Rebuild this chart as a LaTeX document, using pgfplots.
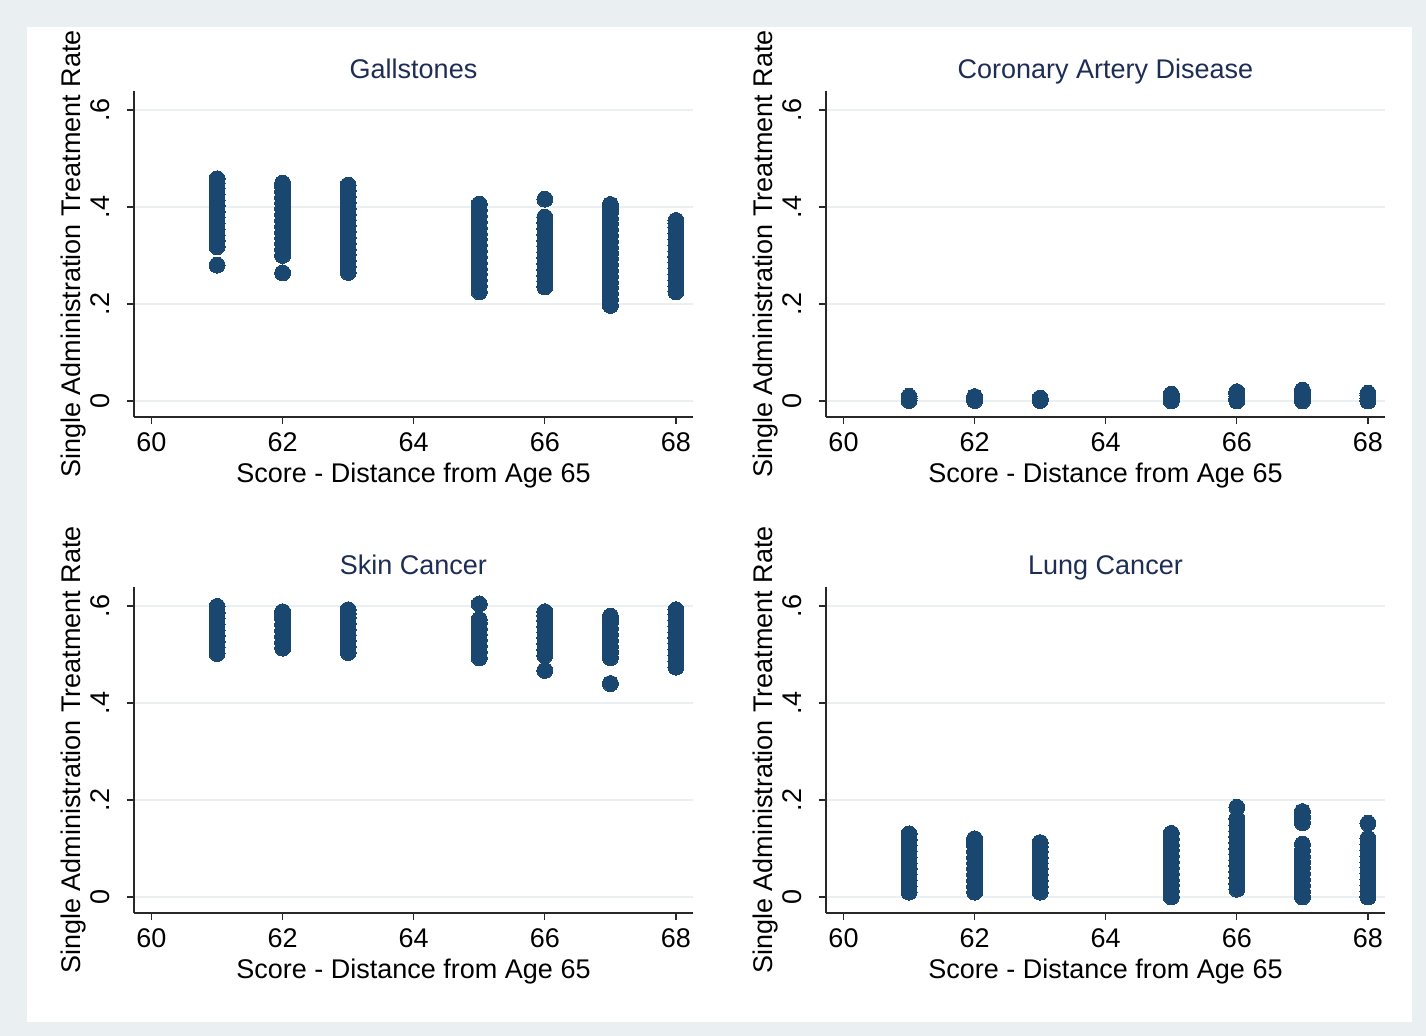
\documentclass[border=0pt]{standalone}
\usepackage{fontspec}
\setmainfont{Liberation Sans}
\usepackage{pgfplots}
\pgfplotsset{compat=1.18}
\definecolor{stnavy}{RGB}{26,71,111}
\definecolor{bgcol}{RGB}{234,240,242}
\definecolor{gridcol}{RGB}{234,240,242}
\definecolor{titlecol}{RGB}{30,45,85}
\definecolor{axcol}{RGB}{40,40,40}
\newcommand{\fs}{\fontsize{13.5}{16}\selectfont}
\pgfplotsset{stata/.style={
  scale only axis, width=279.5pt, height=163pt, anchor=south west,
  xmin=59.733, xmax=68.26, ymin=-0.033, ymax=0.639,
  axis x line=bottom, axis y line=left,
  axis line style={-, draw=axcol, line width=0.6pt},
  xtick={60,62,64,66,68}, ytick={0,0.2,0.4,0.6}, yticklabels={0,.2,.4,.6},
  tick align=outside, major tick length=3.5pt,
  tick style={draw=axcol, line width=0.6pt},
  ymajorgrids, grid style={draw=gridcol, line width=1pt},
  /pgf/number format/assume math mode=true,
  tick label style={font=\fs, text=black},
  xticklabel style={anchor=base, inner sep=0pt, yshift=-14pt},
  yticklabel style={xshift=-8.5pt, rotate=90, anchor=south, inner sep=0pt},
  xlabel={Score - Distance from Age 65},
  ylabel={Single Administration Treatment Rate},
  label style={font=\fs, text=black},
  xlabel style={at={(axis description cs:0.5,0)}, anchor=base, inner sep=0pt, yshift=-33pt},
  ylabel style={at={(axis description cs:-0.109,0.5)}, anchor=center, inner sep=0pt},
  title style={at={(axis description cs:0.5,1)}, anchor=base, inner sep=0pt, yshift=0pt, font=\fs, text=titlecol},
}, dots/.style={only marks, mark=*, mark size=4pt, color=stnavy,
     mark options={draw=stnavy, fill=stnavy, line width=0pt}}}
\begin{document}
\begin{tikzpicture}
\fill[bgcol] (0pt,0pt) rectangle (713pt,518pt);
\fill[white] (13.5pt,7pt) rectangle (706pt,504.5pt);

% Gallstones
\begin{axis}[stata, at={(67pt,309.5pt)}, title={Gallstones}]
\addplot[dots] coordinates {
(61,0.280)(61,0.318)(61,0.330)(61,0.342)(61,0.354)(61,0.366)(61,0.378)(61,0.390)(61,0.402)(61,0.414)(61,0.426)(61,0.438)(61,0.449)(61,0.458)
(62,0.264)(62,0.300)(62,0.312)(62,0.324)(62,0.336)(62,0.348)(62,0.360)(62,0.372)(62,0.384)(62,0.396)(62,0.408)(62,0.420)(62,0.432)(62,0.442)(62,0.449)
(63,0.265)(63,0.277)(63,0.289)(63,0.301)(63,0.313)(63,0.325)(63,0.337)(63,0.349)(63,0.361)(63,0.373)(63,0.385)(63,0.397)(63,0.409)(63,0.421)(63,0.433)(63,0.445)
(65,0.225)(65,0.237)(65,0.249)(65,0.261)(65,0.273)(65,0.285)(65,0.297)(65,0.309)(65,0.321)(65,0.333)(65,0.345)(65,0.357)(65,0.369)(65,0.381)(65,0.393)(65,0.406)
(66,0.235)(66,0.247)(66,0.259)(66,0.271)(66,0.283)(66,0.295)(66,0.307)(66,0.319)(66,0.331)(66,0.343)(66,0.355)(66,0.367)(66,0.379)(66,0.416)
(67,0.197)(67,0.209)(67,0.221)(67,0.233)(67,0.245)(67,0.257)(67,0.269)(67,0.281)(67,0.293)(67,0.305)(67,0.317)(67,0.329)(67,0.341)(67,0.353)(67,0.365)(67,0.377)(67,0.389)(67,0.397)(67,0.405)
(68,0.225)(68,0.237)(68,0.249)(68,0.261)(68,0.273)(68,0.285)(68,0.297)(68,0.309)(68,0.321)(68,0.333)(68,0.345)(68,0.357)(68,0.366)(68,0.372)
};
\end{axis}

% Coronary Artery Disease
\begin{axis}[stata, at={(413pt,309.5pt)}, title={Coronary Artery Disease}]
\addplot[dots] coordinates {
(61,0.001)(61,0.005)(61,0.0095)
(62,0.001)(62,0.005)(62,0.009)
(63,0.001)(63,0.004)(63,0.006)
(65,0.000)(65,0.005)(65,0.010)(65,0.014)
(66,0.000)(66,0.005)(66,0.010)(66,0.015)(66,0.019)
(67,0.000)(67,0.006)(67,0.012)(67,0.017)(67,0.022)
(68,0.000)(68,0.005)(68,0.011)(68,0.016)
};
\end{axis}

% Skin Cancer
\begin{axis}[stata, at={(67pt,61.5pt)}, title={Skin Cancer}]
\addplot[dots] coordinates {
(61,0.502)(61,0.514)(61,0.526)(61,0.538)(61,0.550)(61,0.562)(61,0.574)(61,0.586)(61,0.599)
(62,0.513)(62,0.525)(62,0.537)(62,0.549)(62,0.561)(62,0.573)(62,0.580)(62,0.588)
(63,0.504)(63,0.516)(63,0.528)(63,0.540)(63,0.552)(63,0.564)(63,0.576)(63,0.584)(63,0.592)
(65,0.493)(65,0.505)(65,0.517)(65,0.529)(65,0.541)(65,0.553)(65,0.565)(65,0.572)(65,0.604)
(66,0.467)(66,0.498)(66,0.510)(66,0.522)(66,0.534)(66,0.546)(66,0.558)(66,0.570)(66,0.580)(66,0.588)
(67,0.440)(67,0.493)(67,0.505)(67,0.517)(67,0.529)(67,0.541)(67,0.553)(67,0.565)(67,0.572)(67,0.579)
(68,0.474)(68,0.486)(68,0.498)(68,0.510)(68,0.522)(68,0.534)(68,0.546)(68,0.558)(68,0.570)(68,0.582)(68,0.592)
};
\end{axis}

% Lung Cancer
\begin{axis}[stata, at={(413pt,61.5pt)}, title={Lung Cancer}]
\addplot[dots] coordinates {
(61,0.010)(61,0.022)(61,0.034)(61,0.046)(61,0.058)(61,0.070)(61,0.082)(61,0.094)(61,0.106)(61,0.118)(61,0.130)
(62,0.010)(62,0.022)(62,0.034)(62,0.046)(62,0.058)(62,0.070)(62,0.082)(62,0.094)(62,0.106)(62,0.114)(62,0.120)
(63,0.010)(63,0.022)(63,0.034)(63,0.046)(63,0.058)(63,0.070)(63,0.082)(63,0.094)(63,0.104)(63,0.112)
(65,0.000)(65,0.012)(65,0.024)(65,0.036)(65,0.048)(65,0.060)(65,0.072)(65,0.084)(65,0.096)(65,0.108)(65,0.120)(65,0.131)
(66,0.016)(66,0.028)(66,0.040)(66,0.052)(66,0.064)(66,0.076)(66,0.088)(66,0.100)(66,0.112)(66,0.124)(66,0.136)(66,0.148)(66,0.162)(66,0.185)
(67,0.000)(67,0.012)(67,0.024)(67,0.036)(67,0.048)(67,0.060)(67,0.072)(67,0.084)(67,0.096)(67,0.109)(67,0.153)(67,0.165)(67,0.176)
(68,0.000)(68,0.012)(68,0.024)(68,0.036)(68,0.048)(68,0.060)(68,0.072)(68,0.084)(68,0.096)(68,0.108)(68,0.121)(68,0.152)
};
\end{axis}
\end{tikzpicture}
\end{document}
